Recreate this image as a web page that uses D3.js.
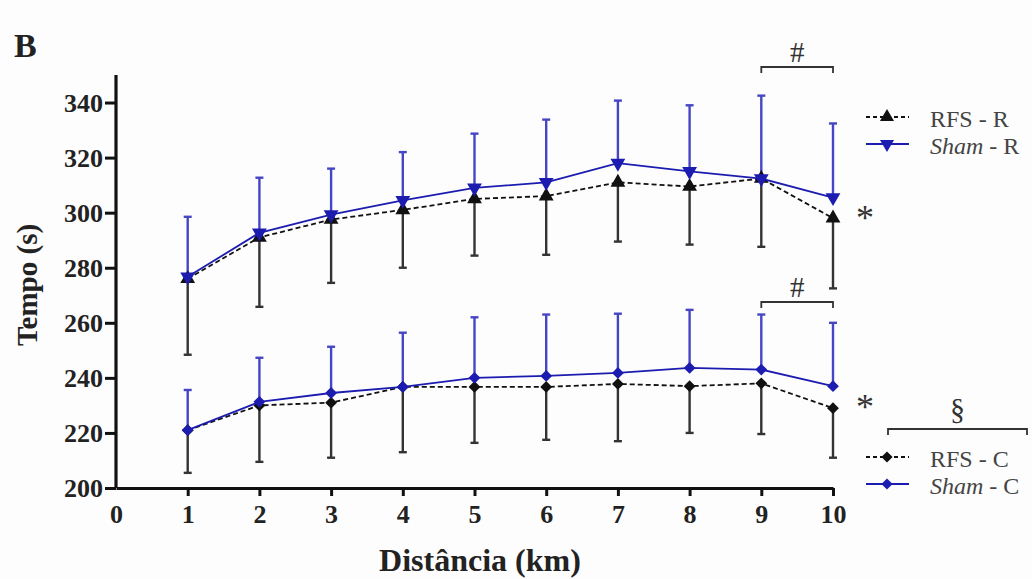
<!DOCTYPE html>
<meta charset="utf-8">
<script src="https://d3js.org/d3.v7.min.js"></script>
<style>
  body { margin: 0; background: #fdfdfd; }
  text { font-family: "Liberation Serif", "DejaVu Serif", serif; }
</style>
<div id="chart"></div>
<script>
// data (means and SD)
var km = [1, 2, 3, 4, 5, 6, 7, 8, 9, 10];
var rfsR   = [276, 291, 297.5, 301, 305, 306, 311, 309.5, 312.4, 298];
var rfsRsd = [27.6, 25.2, 23, 21, 20.6, 21.3, 21.5, 21.1, 24.8, 25.5];
var shamR   = [276.7, 292.7, 299.3, 304.5, 309, 311, 318, 315, 312.4, 305.5];
var shamRsd = [21.8, 20, 16.7, 17.5, 19.7, 22.8, 22.7, 24, 30.1, 26.9];
var rfsC   = [221, 230, 231, 236.7, 236.7, 236.7, 237.8, 237, 238, 229];
var rfsCsd = [15.5, 20.5, 20, 23.7, 20.3, 19.2, 20.8, 17, 18.4, 18];
var shamC   = [221, 231.3, 234.5, 236.7, 240, 240.7, 241.8, 243.6, 243, 237];
var shamCsd = [14.6, 16, 16.8, 19.7, 22, 22.3, 21.5, 21.1, 20, 23];
var xTicks = [0, 1, 2, 3, 4, 5, 6, 7, 8, 9, 10];
var yTicks = [200, 220, 240, 260, 280, 300, 320, 340];

var W = 1032, H = 579;
var svg = d3.select("#chart").append("svg")
  .attr("width", W).attr("height", H);

var x = d3.scaleLinear().domain([0, 10]).range([116, 833]);
var y = d3.scaleLinear().domain([200, 350]).range([488, 75]);

var blue = "#1c1cb0", blueBar = "#4646c4";

// series: error direction +1 up, -1 down; diamonds are rotated squares
var series = [
  {name: "rfsR", mean: rfsR, sd: rfsRsd, dir: -1, color: "#111", bar: "#333", dash: "5,3", shape: d3.symbolTriangle, rot: 0, size: 95},
  {name: "shamR", mean: shamR, sd: shamRsd, dir: 1, color: blue, bar: blueBar, dash: null, shape: d3.symbolTriangle, rot: 180, size: 95},
  {name: "rfsC", mean: rfsC, sd: rfsCsd, dir: -1, color: "#111", bar: "#333", dash: "5,3", shape: d3.symbolSquare, rot: 45, size: 70},
  {name: "shamC", mean: shamC, sd: shamCsd, dir: 1, color: blue, bar: blueBar, dash: null, shape: d3.symbolSquare, rot: 45, size: 70}
];

// axes
var yAxis = svg.append("g")
  .attr("transform", "translate(116,0)")
  .call(d3.axisLeft(y).tickValues(yTicks).tickSize(11).tickPadding(2).tickSizeOuter(0));
var xAxis = svg.append("g")
  .attr("transform", "translate(0,488)")
  .call(d3.axisBottom(x).tickValues(xTicks).tickSize(8).tickPadding(9).tickSizeOuter(0));
[yAxis, xAxis].forEach(function(a) {
  a.select(".domain").attr("stroke", "#111").attr("stroke-width", 3.2);
  a.selectAll(".tick line").attr("stroke", "#111").attr("stroke-width", 3);
  a.selectAll(".tick text").attr("fill", "#222")
    .style("font-size", "26px").style("font-weight", "bold")
    .style("font-family", "'Liberation Serif', serif");
});
yAxis.selectAll(".tick text").attr("dy", "0.34em");
xAxis.selectAll(".tick").filter(function(d) { return d === 0; }).select("line").remove();
yAxis.select(".domain").attr("d", "M0," + y(350) + "V" + y(200));

// error bars
series.forEach(function(s) {
  var g = svg.append("g");
  km.forEach(function(k, i) {
    var end = s.mean[i] + s.dir * s.sd[i];
    g.append("line")
      .attr("x1", x(k)).attr("x2", x(k))
      .attr("y1", y(s.mean[i])).attr("y2", y(end))
      .attr("stroke", s.bar).attr("stroke-width", 2.4);
    g.append("line")
      .attr("x1", x(k) - 4).attr("x2", x(k) + 4)
      .attr("y1", y(end)).attr("y2", y(end))
      .attr("stroke", s.bar).attr("stroke-width", 2.4);
  });
});

// lines and markers
var line = d3.line().x(function(d) { return x(d[0]); }).y(function(d) { return y(d[1]); });
series.forEach(function(s) {
  var pts = km.map(function(k, i) { return [k, s.mean[i]]; });
  svg.append("path").attr("d", line(pts))
    .attr("fill", "none").attr("stroke", s.color).attr("stroke-width", 1.8)
    .attr("stroke-dasharray", s.dash);
  svg.append("g").selectAll("path").data(pts).enter().append("path")
    .attr("d", d3.symbol().type(s.shape).size(s.size))
    .attr("transform", function(d) { return "translate(" + x(d[0]) + "," + y(d[1]) + ") rotate(" + s.rot + ")"; })
    .attr("fill", s.color);
});

// axis titles
svg.append("text").attr("x", 480).attr("y", 571).attr("text-anchor", "middle")
  .style("font-size", "32px").style("font-weight", "bold").attr("fill", "#222")
  .text("Distância (km)");
svg.append("text").attr("transform", "translate(37,285) rotate(-90)").attr("text-anchor", "middle")
  .style("font-size", "29px").style("font-weight", "bold").attr("fill", "#222")
  .text("Tempo (s)");
svg.append("text").attr("x", 14).attr("y", 57)
  .style("font-size", "34px").style("font-weight", "bold").attr("fill", "#222").text("B");

// significance brackets
function bracket(x1, x2, yy, label, ly, fs) {
  svg.append("path")
    .attr("d", "M" + x1 + "," + (yy + 6) + "V" + yy + "H" + x2 + "V" + (yy + 6))
    .attr("fill", "none").attr("stroke", "#333").attr("stroke-width", 1.8);
  svg.append("text").attr("x", (x1 + x2) / 2).attr("y", ly).attr("text-anchor", "middle")
    .style("font-size", fs + "px").attr("fill", "#333").text(label);
}
bracket(x(9), x(10), 67, "#", 62, 29);
bracket(x(9), x(10), 302, "#", 297, 29);
bracket(888, 1027, 429, "§", 419, 30);
svg.append("text").attr("x", 865).attr("y", 230).attr("text-anchor", "middle")
  .style("font-size", "36px").attr("fill", "#333").text("*");
svg.append("text").attr("x", 865).attr("y", 419).attr("text-anchor", "middle")
  .style("font-size", "36px").attr("fill", "#333").text("*");

// legends
var legend = [
  {s: series[0], label: "RFS", suffix: " - R", yy: 117},
  {s: series[1], label: "Sham", suffix: " - R", yy: 144},
  {s: series[2], label: "RFS", suffix: " - C", yy: 457},
  {s: series[3], label: "Sham", suffix: " - C", yy: 484}
];
legend.forEach(function(l) {
  var s = l.s;
  svg.append("line").attr("x1", 866).attr("x2", 909).attr("y1", l.yy).attr("y2", l.yy)
    .attr("stroke", s.color).attr("stroke-width", 1.8).attr("stroke-dasharray", s.dash ? "4,3" : null);
  svg.append("path")
    .attr("d", d3.symbol().type(s.shape).size(s.size * 0.9))
    .attr("transform", "translate(887," + l.yy + ") rotate(" + s.rot + ")")
    .attr("fill", s.color);
  var t = svg.append("text").attr("x", 930).attr("y", l.yy + 10)
    .style("font-size", "24px").attr("fill", "#444");
  t.append("tspan").style("font-style", l.label === "Sham" ? "italic" : "normal").text(l.label);
  t.append("tspan").text(l.suffix);
});
</script>
